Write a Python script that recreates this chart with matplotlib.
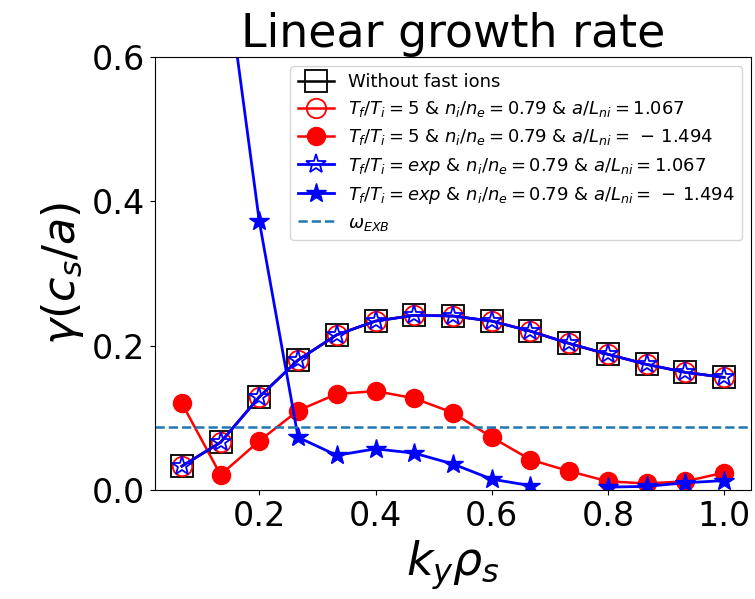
import numpy as np
import matplotlib
matplotlib.use("Agg")
import matplotlib.pyplot as plt

# ky*rho_s grid
ky = [0.0667, 0.1333, 0.2, 0.2667, 0.3333, 0.4, 0.4667, 0.5333,
      0.6, 0.6667, 0.7333, 0.8, 0.8667, 0.9333, 1.0]

gamma_nofast = [0.033, 0.066, 0.129, 0.180, 0.215, 0.234, 0.242, 0.241,
                0.234, 0.220, 0.203, 0.188, 0.174, 0.163, 0.156]
gamma_t5_pos = [0.033, 0.066, 0.129, 0.180, 0.215, 0.234, 0.242, 0.241,
                0.234, 0.220, 0.203, 0.188, 0.174, 0.163, 0.156]
gamma_t5_neg = [0.120, 0.021, 0.068, 0.110, 0.133, 0.137, 0.127, 0.107,
                0.073, 0.042, 0.026, 0.012, 0.009, 0.012, 0.024]
gamma_exp_pos = [0.033, 0.066, 0.129, 0.180, 0.215, 0.234, 0.242, 0.241,
                 0.234, 0.220, 0.203, 0.188, 0.174, 0.163, 0.156]
gamma_exp_neg = [1.20, 0.774, 0.372, 0.073, 0.048, 0.057, 0.051, 0.036,
                 0.015, 0.006, -0.05, 0.004, 0.005, 0.010, 0.013]
omega_exb = 0.087

labels = [
    "Without fast ions",
    r"$T_f/T_i = 5$ & $n_i/n_e = 0.79$ & $a/L_{ni} = 1.067$",
    r"$T_f/T_i = 5$ & $n_i/n_e = 0.79$ & $a/L_{ni} = \,-\,1.494$",
    r"$T_f/T_i = exp$ & $n_i/n_e = 0.79$ & $a/L_{ni} = 1.067$",
    r"$T_f/T_i = exp$ & $n_i/n_e = 0.79$ & $a/L_{ni} = \,-\,1.494$",
    r"$\omega_{EXB}$",
]

fig, ax = plt.subplots(figsize=(7.55, 5.99), dpi=100)
fig.subplots_adjust(left=0.205, right=0.995, top=0.905, bottom=0.182)

ax.plot(ky, gamma_nofast, color="k", marker="s", ms=16, mfc="none",
        mew=1.3, lw=1.8, label=labels[0])
ax.plot(ky, gamma_t5_pos, color="red", marker="o", ms=14, mfc="none",
        mew=1.3, lw=1.8, label=labels[1])
ax.plot(ky, gamma_t5_neg, color="red", marker="o", ms=13,
        lw=1.8, label=labels[2])
ax.plot(ky, gamma_exp_pos, color="blue", marker="*", ms=15, mfc="none",
        mew=1.3, lw=2, label=labels[3])
ax.plot(ky, gamma_exp_neg, color="blue", marker="*", ms=15,
        lw=2, label=labels[4])
ax.axhline(omega_exb, color="tab:blue", ls="--", lw=1.8, label=labels[5])

ax.set_ylim(0, 0.6)
ax.set_yticks([0.0, 0.2, 0.4, 0.6])
ax.set_xticks([0.2, 0.4, 0.6, 0.8, 1.0])
ax.tick_params(labelsize=24)

ax.set_title("Linear growth rate", fontsize=33)
ax.set_xlabel(r"$k_y\rho_s$", fontsize=33)
ax.set_ylabel(r"$\gamma(c_s/a)$", fontsize=32)

ax.legend(loc="upper right", fontsize=13, labelspacing=0.45)

plt.savefig("out.png", dpi=100)
